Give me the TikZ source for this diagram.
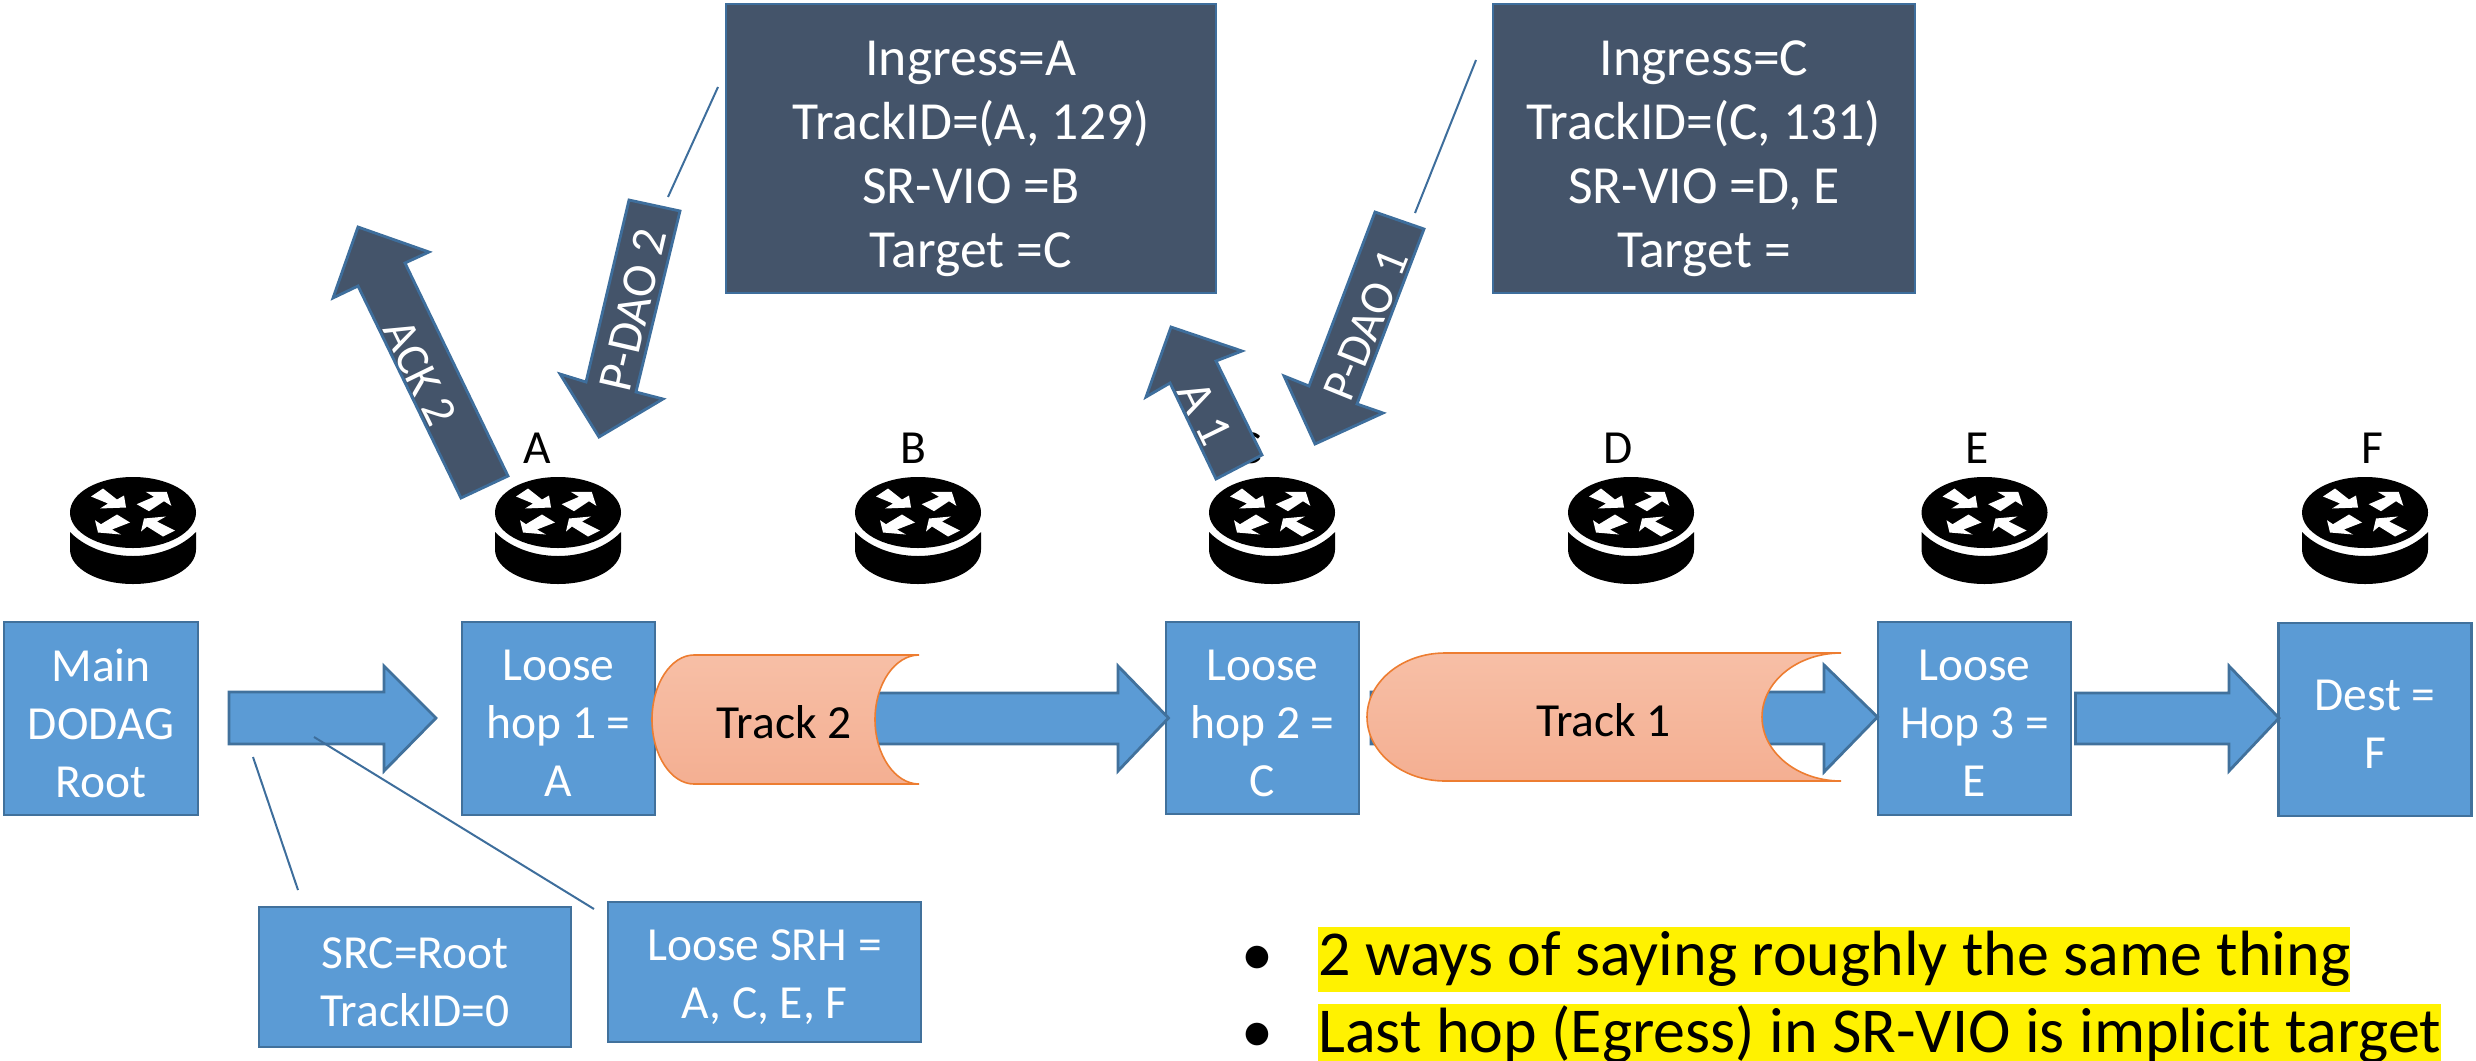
\documentclass[tikz,border=0pt]{standalone}
\usepackage{fontspec}
\setmainfont{Carlito}
\definecolor{bluefill}{HTML}{5B9BD5}
\definecolor{blueedge}{HTML}{41719C}
\definecolor{darkfill}{HTML}{44546A}
\definecolor{leader}{HTML}{3E6E9C}
\definecolor{trackedge}{HTML}{ED7D31}
\definecolor{trackA}{HTML}{F7BFA6}
\definecolor{trackB}{HTML}{F4AF92}
\newcommand{\fsmall}{\fontsize{23.75}{29}\selectfont}
\newcommand{\fbig}{\fontsize{26.8}{32}\selectfont}
\newcommand{\fnote}{\fontsize{32}{38.5}\selectfont}
\newcommand{\farrow}{\fontsize{24.4}{29}\selectfont}
\newcommand{\farrowsmall}{\fontsize{23.5}{28}\selectfont}
\tikzset{
  x=0.5pt,y=-0.5pt,
  bluebox/.style={draw=blueedge,fill=bluefill,line width=1.4pt,inner sep=0pt},
  darkbox/.style={draw=leader,fill=darkfill,line width=1.4pt,inner sep=0pt},
  bluetext/.style={text=white,align=center,inner sep=0pt,font=\fsmall,yshift=-2.5pt},
  darktext/.style={text=white,align=center,inner sep=0pt,font=\fbig,yshift=-5pt},
  blockarrow/.style={draw=blueedge,fill=bluefill,line width=1.4pt,line join=miter},
  darkarrow/.style={draw=leader,fill=darkfill,line width=1.4pt,line join=miter},
  arrowtext/.style={text=white,font=\farrow,inner sep=0pt},
  leaderline/.style={draw=leader,line width=1pt},
  hoplabel/.style={text=black,font=\fsmall,inner sep=0pt,anchor=base},
  trackshape/.style={draw=trackedge,line width=0.8pt,top color=trackA,bottom color=trackB},
  tracktext/.style={text=black,font=\fsmall,inner sep=0pt,anchor=base},
  notetext/.style={fill=yellow,text=black,font=\fnote,inner sep=0pt,anchor=base west,text height=24pt,text depth=8.5pt},
  bullettext/.style={text=black,font=\fnote,inner sep=0pt,anchor=base},
  router/.pic={
    \fill[black] (0,-35.5) .. controls (35,-35.5) and (63,-19.6) .. (63,0) .. controls (63,19.6) and (35,35.5) .. (0,35.5) .. controls (-35,35.5) and (-63,19.6) .. (-63,0) .. controls (-63,-19.6) and (-35,-35.5) .. (0,-35.5) -- cycle;
    \fill[black] (-63,19.5) .. controls (-50,33) and (-27,43.5) .. (0,43.5) .. controls (27,43.5) and (50,33) .. (63,19.5) -- (63,37) .. controls (63,56) and (35,71.5) .. (0,71.5) .. controls (-35,71.5) and (-63,56) .. (-63,37) -- cycle;
    \fill[white] (-42,-16) -- (-30,-24) -- (-16,-13) -- (-9,-17) -- (-7,-5) -- (-33,-4) -- (-25,-9) -- cycle;
    \fill[white] (3.7,-8.3) -- (21,-15.7) -- (12.7,-20.7) -- (33.7,-20.7) -- (38.3,-6.7) -- (31,-11.3) -- (16,-1.3) -- cycle;
    \fill[white] (-38,7.7) -- (-32,11.7) -- (-16,2) -- (-3,10) -- (-21,17) -- (-12,22) -- (-35,20) -- cycle;
    \fill[white] (8,19) -- (11,6) -- (33,4) -- (24,9) -- (42,18) -- (30,24) -- (14,14) -- cycle;
  }
}
\begin{document}
\begin{tikzpicture}
\useasboundingbox (0,0) rectangle (2476,1060);
% routers
\foreach \n/\cx in {r0/133,r1/558,r2/918,r3/1272,r4/1631,r5/1984.5,r6/2365}{
  \pic (\n) at (\cx,512.5) {router};
}
% router labels
\node[hoplabel] (la) at (537,463) {A};
\node[hoplabel] (lb) at (913,463) {B};
\node[hoplabel] (lc) at (1249,463) {C};
\node[hoplabel] (ld) at (1618,463) {D};
\node[hoplabel] (le) at (1977,463) {E};
\node[hoplabel] (lf) at (2372,463) {F};
% boxes
\node[bluebox,minimum width=97pt,minimum height=96.5pt] (root) at (101,718.5) {};
\node[bluetext] (roott) at (root) {Main\\DODAG\\Root};
\node[bluebox,minimum width=96.5pt,minimum height=96.5pt] (hop1) at (558.5,718.5) {};
\node[bluetext] (hop1t) at (hop1) {Loose\\hop 1 =\\A};
\node[bluebox,minimum width=96.5pt,minimum height=96pt] (hop2) at (1262.5,718) {};
\node[bluetext] (hop2t) at (hop2) {Loose\\hop 2 =\\C};
\node[bluebox,minimum width=96.5pt,minimum height=96.5pt] (hop3) at (1974.5,718.5) {};
\node[bluetext] (hop3t) at (hop3) {Loose\\Hop 3 =\\E};
\node[bluebox,minimum width=96.25pt,minimum height=96.5pt] (dest) at (2375,719.5) {};
\node[bluetext] (destt) at (dest) {Dest =\\F};
\node[darkbox,minimum width=245pt,minimum height=144.5pt] (info2) at (971,148.5) {};
\node[darktext] (info2t) at (info2) {Ingress=A\\TrackID=(A, 129)\\SR-VIO =B\\Target =C};
\node[darkbox,minimum width=211pt,minimum height=144.5pt] (info1) at (1704,148.5) {};
\node[darktext] (info1t) at (info1) {Ingress=C\\TrackID=(C, 131)\\SR-VIO =D, E\\Target =};
\node[bluebox,minimum width=156pt,minimum height=70pt] (src) at (415,977) {};
\node[bluetext] (srct) at (src) {SRC=Root\\TrackID=0};
\node[bluebox,minimum width=156.5pt,minimum height=70pt] (srh) at (764.5,972) {};
\node[bluetext] (srht) at (srh) {Loose SRH =\\A, C, E, F};
% block arrows along the route
\draw[blockarrow] (229,692) -- (384,692) -- (384,666) -- (436,718) -- (384,771) -- (384,744) -- (229,744) -- cycle;
\draw[blockarrow] (700,693) -- (1118,693) -- (1118,666) -- (1168.5,718) -- (1118,771) -- (1118,744) -- (700,744) -- cycle;
\draw[blockarrow] (1371,692) -- (1824,692) -- (1824,665) -- (1877.5,717) -- (1824,772) -- (1824,744) -- (1371,744) -- cycle;
\draw[blockarrow] (2075.5,693) -- (2229,693) -- (2229,666) -- (2279,718) -- (2229,771) -- (2229,744) -- (2075.5,744) -- cycle;
% tracks
\path[trackshape] (919,655) -- (694,655) .. controls (671,655) and (652,684) .. (652,719.5) .. controls (652,755) and (671,784) .. (694,784) -- (919,784) .. controls (895,784) and (875,755) .. (875,719.5) .. controls (875,684) and (895,655) .. (919,655);
\path[trackshape] (1841,653) -- (1445,653) .. controls (1402,653) and (1367,682) .. (1367,717) .. controls (1367,752) and (1402,781) .. (1445,781) -- (1841,781) .. controls (1797,781) and (1762,752) .. (1762,717) .. controls (1762,682) and (1797,653) .. (1841,653);
\node[tracktext] (t2) at (784,738) {Track 2};
\node[tracktext] (t1) at (1603.5,736) {Track 1};
% slanted message arrows
\draw[darkarrow] (508,476) -- (405,263) -- (429,252) -- (358,227) -- (333,298) -- (358,286) -- (461,498) -- cycle;
\node[arrowtext,font=\farrowsmall,rotate=-64] (ack2) at (420,373) {ACK 2};
\draw[darkarrow] (629,200) -- (680,211) -- (636,392) -- (663,399) -- (599,437) -- (560,374) -- (586,382) -- cycle;
\node[arrowtext,rotate=77] (pdao2) at (633,310) {P-DAO 2};
\draw[darkarrow] (1262,455) -- (1216,361) -- (1242,351) -- (1171,327) -- (1146,397) -- (1170,383) -- (1216,479) -- cycle;
\node[arrowtext,rotate=-64] (ack1) at (1205,413) {A 1};
\draw[darkarrow] (1375,212) -- (1424,229) -- (1357,404) -- (1383,413) -- (1315,444) -- (1284,376) -- (1309,386) -- cycle;
\node[arrowtext,font=\farrowsmall,rotate=68] (pdao1) at (1366,325) {P-DAO 1};
% leader lines
\coordinate (l1a) at (253,757); \coordinate (l1b) at (298,890);
\coordinate (l2a) at (314,737); \coordinate (l2b) at (594,909);
\coordinate (l3a) at (718,87);  \coordinate (l3b) at (668,197);
\coordinate (l4a) at (1476,60); \coordinate (l4b) at (1415,213);
\draw[leaderline] (l1a) -- (l1b);
\draw[leaderline] (l2a) -- (l2b);
\draw[leaderline] (l3a) -- (l3b);
\draw[leaderline] (l4a) -- (l4b);
% notes
\node[bullettext] (b1) at (1257,975) {•};
\node[bullettext] (b2) at (1257,1052) {•};
\node[notetext] (n1) at (1318,975) {2 ways of saying roughly the same thing};
\node[notetext] (n2) at (1318,1052) {Last hop (Egress) in SR-VIO is implicit target};
\end{tikzpicture}
\end{document}
